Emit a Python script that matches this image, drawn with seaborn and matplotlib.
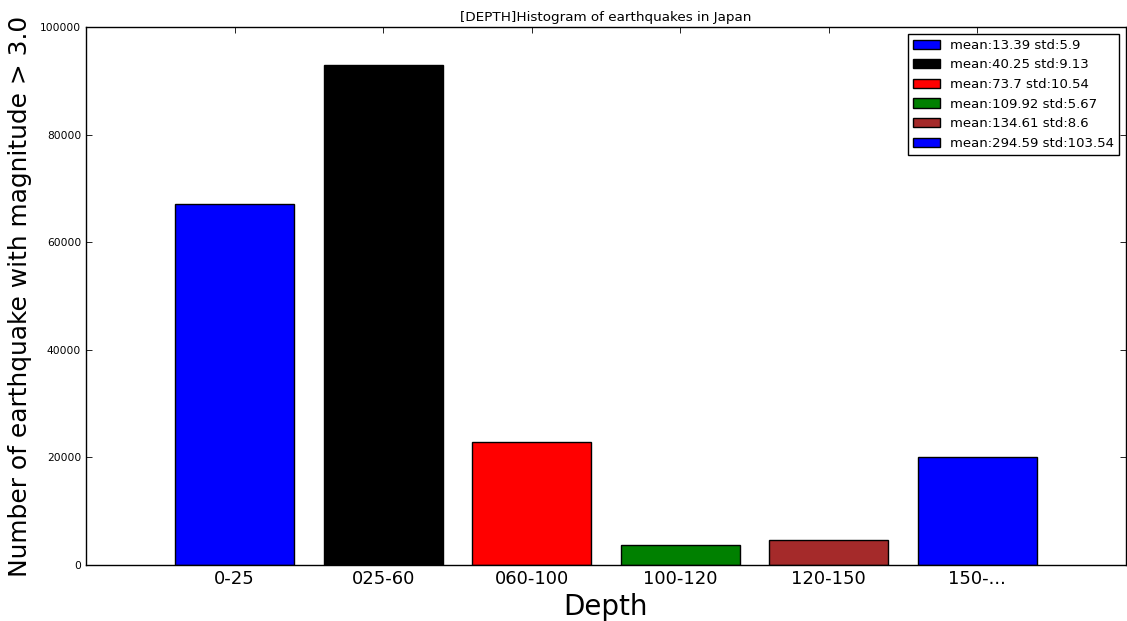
import matplotlib
matplotlib.use("Agg")
import matplotlib.pyplot as plt
import seaborn as sns
import pandas as pd

categories = ["0-25", "025-60", "060-100", "100-120", "120-150", "150-..."]
counts = [67100, 93000, 22900, 3640, 4650, 20100]
colors = ["#0000ff", "#000000", "#ff0000", "#008000", "#a52a2a", "#0000ff"]
legend_labels = [
    "mean:13.39 std:5.9",
    "mean:40.25 std:9.13",
    "mean:73.7 std:10.54",
    "mean:109.92 std:5.67",
    "mean:134.61 std:8.6",
    "mean:294.59 std:103.54",
]
yticks = [0, 20000, 40000, 60000, 80000, 100000]

sns.set_theme(style="ticks", rc={
    "xtick.direction": "in", "ytick.direction": "in",
    "xtick.top": True, "ytick.right": True,
    "axes.edgecolor": "black", "axes.linewidth": 1.0,
    "xtick.color": "black", "ytick.color": "black",
    "xtick.major.size": 4, "ytick.major.size": 4,
    "xtick.major.width": 0.6, "ytick.major.width": 0.6,
    "text.color": "black", "axes.labelcolor": "black",
    "xtick.labelcolor": "black", "ytick.labelcolor": "black",
})
plt.rcParams["font.family"] = ["DejaVu Sans"]

df = pd.DataFrame({"Depth": categories, "Count": counts})

fig = plt.figure(figsize=(11.27, 6.21), dpi=100)
ax = fig.add_axes([86 / 1127, 56 / 621, 1040 / 1127, 538 / 621])

sns.barplot(data=df, x="Depth", y="Count", hue="Depth", palette=colors,
            order=categories, hue_order=categories, width=0.8,
            edgecolor="black", linewidth=1.0, saturation=1, legend=False, ax=ax)

ax.set_xlim(-1, 6)
ax.set_ylim(0, 100000)
ax.set_yticks(yticks)
ax.set_yticklabels([str(v) for v in yticks], fontsize=7.7)
ax.tick_params(axis="x", labelsize=13)
ax.set_xlabel("Depth", fontsize=20)
ax.set_ylabel("Number of earthquake with magnitude > 3.0", fontsize=17.9, labelpad=6)
ax.set_title("[DEPTH]Histogram of earthquakes in Japan", fontsize=9.7, pad=4)
for s in ax.spines.values():
    s.set_visible(True)

handles = [c.patches[0] for c in ax.containers]
leg = ax.legend(handles, legend_labels, loc="upper right", fontsize=9.5,
                fancybox=False, framealpha=1, edgecolor="black",
                handlelength=2, handleheight=0.7, labelspacing=0.5,
                borderpad=0.4, borderaxespad=0.5)
leg.get_frame().set_linewidth(1.0)

fig.savefig("out.png", dpi=100)
